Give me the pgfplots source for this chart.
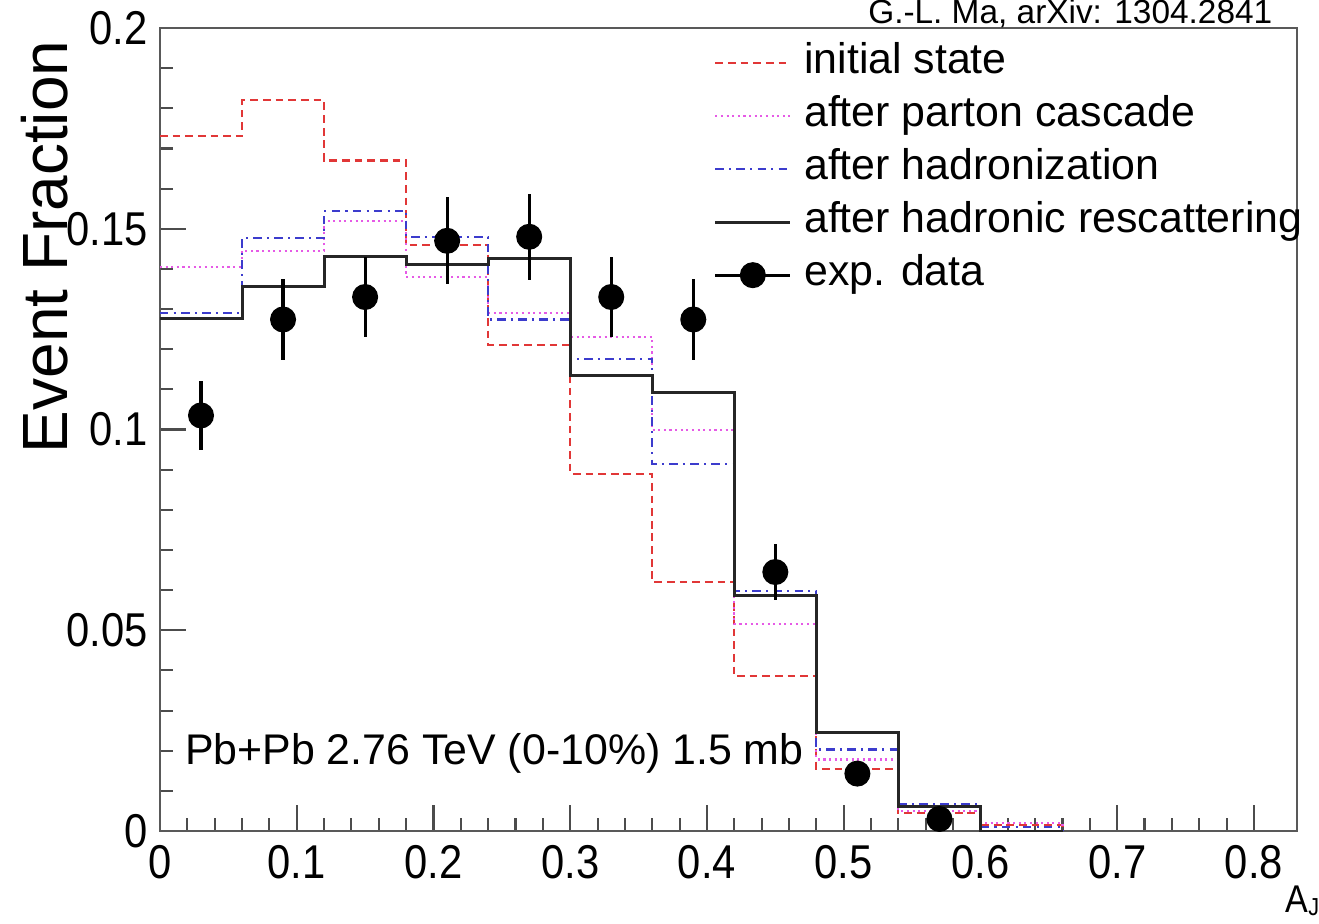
\documentclass[border=0pt]{standalone}
\usepackage{fontspec}
\setmainfont{Liberation Sans}
\newfontfamily\narrowfont{Liberation Sans}[FakeStretch=0.88]
\usepackage{pgfplots}
\pgfplotsset{compat=1.18}
\definecolor{rred}{RGB}{225,55,55}
\definecolor{rmag}{RGB}{230,90,230}
\definecolor{rblue}{RGB}{60,60,205}
\begin{document}
\begin{tikzpicture}
\begin{axis}[
  at={(0,0)}, anchor=south west,
  scale only axis, width=113.7mm, height=80.3mm,
  xmin=0, xmax=0.8315, ymin=0, ymax=0.2,
  xtick={0,0.1,0.2,0.3,0.4,0.5,0.6,0.7,0.8},
  xticklabels={0,0.1,0.2,0.3,0.4,0.5,0.6,0.7,0.8},
  ytick={0,0.05,0.1,0.15,0.2},
  yticklabels={0,0.05,0.1,0.15,0.2},
  minor x tick num=4, minor y tick num=4,
  tick pos=left, tick align=inside,
  major tick length=2.6mm, minor tick length=1.3mm,
  tick style={black!70, line width=0.6pt},
  axis line style={black!65, line width=0.8pt},
  ticklabel style={font=\narrowfont\fontsize{13.5}{15}\selectfont},
  xticklabel style={inner sep=1pt, yshift=-3pt},
  /pgf/number format/assume math mode=true,
  clip mode=individual,
  ylabel={Event Fraction},
  every axis y label/.style={at={(rel axis cs:-0.1011,0.985)}, anchor=east, rotate=90, inner sep=0pt, font=\fontsize{18.2}{20}\selectfont},
  xlabel={A\raisebox{-1pt}{\fontsize{7}{8}\selectfont J}},
  every axis x label/.style={at={(rel axis cs:0.9894,-0.1009)}, anchor=base west, inner sep=0pt, font=\narrowfont\fontsize{11}{13}\selectfont},
  legend image code/.code={\draw[#1] plot coordinates {(0mm,0mm) (7.5mm,0mm)};},
  legend cell align=left,
  legend style={at={(0.4864,0.9905)}, anchor=north west, draw=none, fill=none, inner sep=0pt,
    font=\fontsize{12.2}{14}\selectfont, row sep=0pt,
    nodes={inner sep=2pt, text height=8.6pt, text depth=2.5pt},
    /tikz/every odd column/.append style={column sep=1.5pt}},
]
\addplot[const plot, rred, line width=0.6pt, dash pattern=on 2.2pt off 1.4pt] coordinates {
(0,0.173) (0.06,0.182) (0.12,0.167) (0.18,0.146) (0.24,0.121) (0.30,0.089) (0.36,0.062) (0.42,0.0385) (0.48,0.0155) (0.54,0.0045) (0.60,0.0016) (0.66,0)};
\addlegendentry{initial state}
\addplot[const plot, rmag, line width=0.6pt, dash pattern=on 0.6pt off 1.0pt] coordinates {
(0,0.1405) (0.06,0.1445) (0.12,0.152) (0.18,0.138) (0.24,0.129) (0.30,0.123) (0.36,0.0999) (0.42,0.0515) (0.48,0.0178) (0.54,0.005) (0.60,0.002) (0.66,0)};
\addlegendentry{after parton cascade}
\addplot[const plot, rblue, line width=0.6pt, dash pattern=on 2.4pt off 1.5pt on 0.6pt off 1.5pt] coordinates {
(0,0.129) (0.06,0.1478) (0.12,0.1545) (0.18,0.148) (0.24,0.1274) (0.30,0.1176) (0.36,0.0915) (0.42,0.0597) (0.48,0.0203) (0.54,0.0067) (0.60,0.001) (0.66,0)};
\addlegendentry{after hadronization}
\addplot[const plot, black!85, line width=0.85pt] coordinates {
(0,0.1277) (0.06,0.1357) (0.12,0.1431) (0.18,0.141) (0.24,0.1425) (0.30,0.1134) (0.36,0.1093) (0.42,0.0587) (0.48,0.0245) (0.54,0.0062) (0.60,0) (0.66,0)};
\addlegendentry{after hadronic rescattering}
\addplot[only marks, mark=*, mark size=3.5pt, black,
  legend image code/.code={\draw[black,line width=0.9pt] (0mm,0mm) -- (7.5mm,0mm); \fill[black] (3.75mm,0mm) circle (3.5pt);},
  error bars/.cd, y dir=both, y explicit, error mark=none, error bar style={line width=0.9pt}] coordinates {
(0.03,0.1035) +- (0,0.0087)
(0.09,0.1274) +- (0,0.0100)
(0.15,0.1330) +- (0,0.0100)
(0.21,0.1470) +- (0,0.0108)
(0.27,0.1480) +- (0,0.0107)
(0.33,0.1330) +- (0,0.0100)
(0.39,0.1274) +- (0,0.0100)
(0.45,0.0645) +- (0,0.0070)
(0.51,0.0143) +- (0,0.0020)
(0.57,0.0030) +- (0,0.0010)};
\addlegendentry{exp. data}
\node[anchor=base west, font=\fontsize{12.2}{14}\selectfont, inner sep=0pt] at (axis cs:0.0178,0.0165) {Pb+Pb 2.76 TeV (0-10\%) 1.5 mb};
\node[anchor=base east, font=\fontsize{9.5}{11}\selectfont, inner sep=0pt] at (axis cs:0.8139,0.2012) {G.-L. Ma, arXiv: 1304.2841};
\end{axis}
\pgfresetboundingbox
\useasboundingbox (-16mm,-9.2mm) rectangle (115.9mm,83.1mm);
\end{tikzpicture}
\end{document}
